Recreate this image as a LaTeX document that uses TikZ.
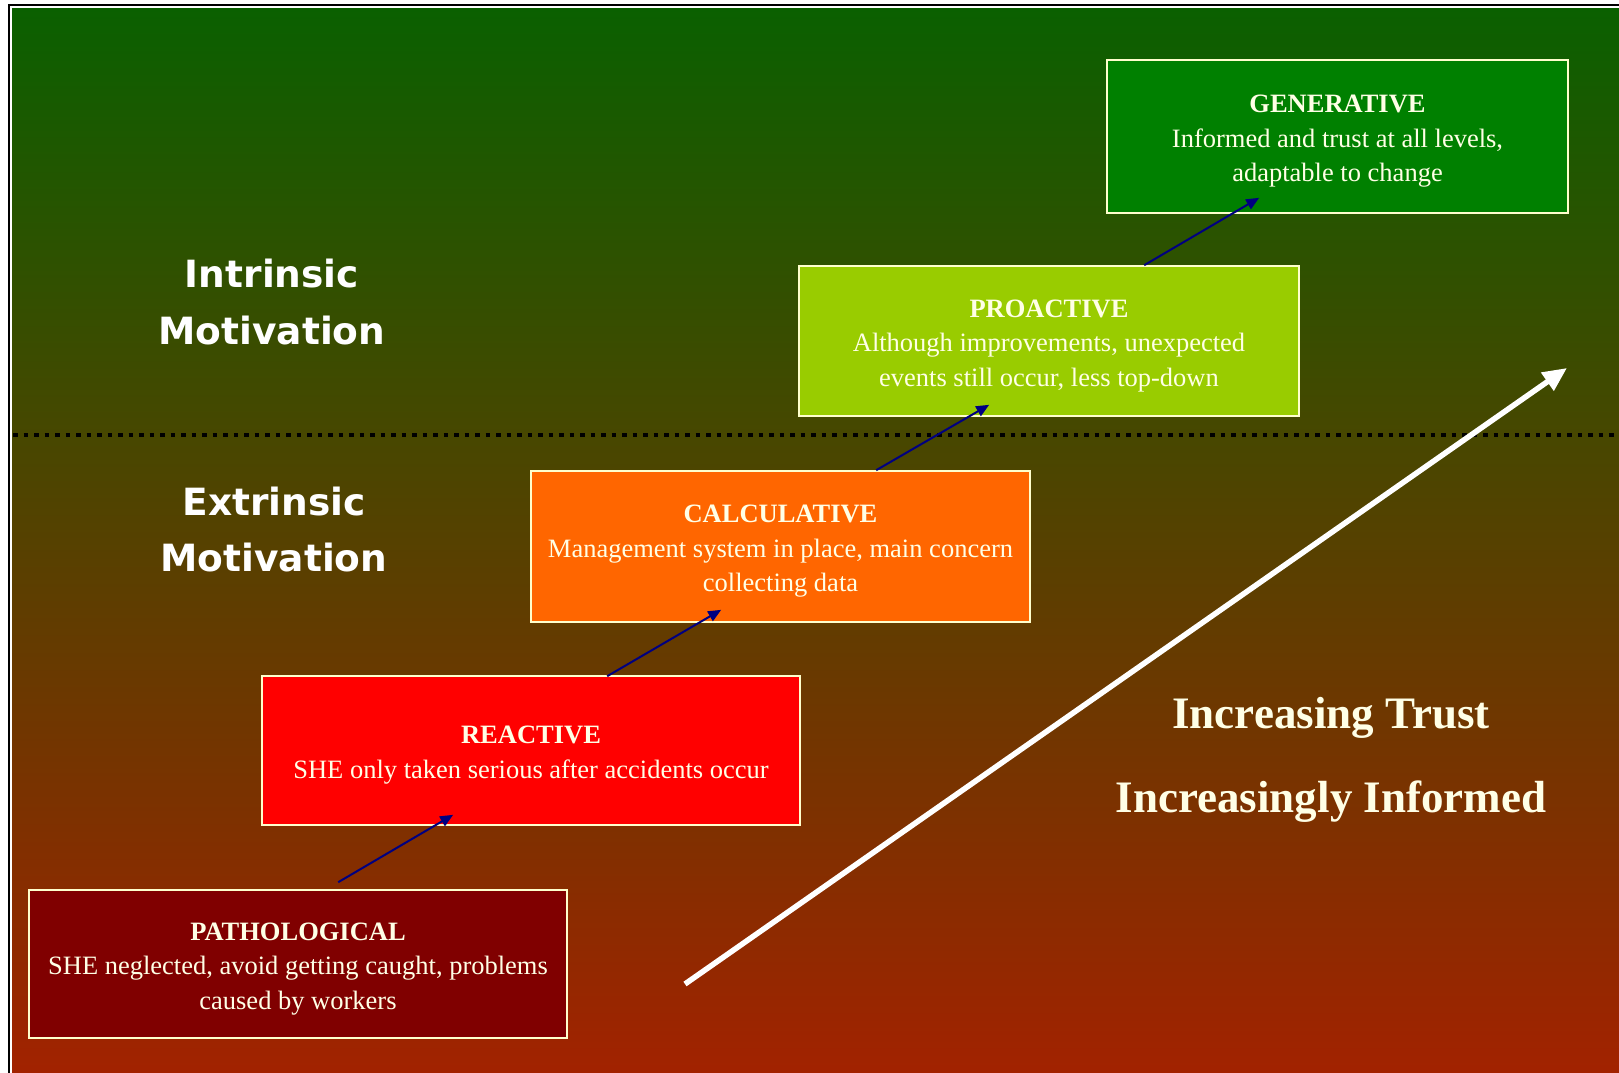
\documentclass[tikz,border=0pt]{standalone}
\usepackage{fontspec}
\setmainfont{Liberation Serif}
\newfontfamily\motivfont{DejaVu Sans}
\usetikzlibrary{arrows.meta}
\newcommand\lvtitle[1]{\rule{0pt}{27pt}\textbf{#1}}
\definecolor{bgtop}{RGB}{10,96,0}
\definecolor{bgmid}{RGB}{100,74,0}
\definecolor{bgbot}{RGB}{162,34,0}
\definecolor{genc}{RGB}{0,128,0}
\definecolor{proc}{RGB}{153,204,0}
\definecolor{calcc}{RGB}{255,102,0}
\definecolor{reacc}{RGB}{255,0,0}
\definecolor{pathc}{RGB}{128,0,0}
\definecolor{boxline}{RGB}{255,255,204}
\definecolor{boxtext}{RGB}{255,255,230}
\definecolor{navyc}{RGB}{0,0,128}
\begin{document}
\begin{tikzpicture}[x=1pt,y=-1pt,
  levelbox/.style={draw=boxline, line width=1.6pt, text=boxtext, align=center,
    inner sep=0pt, font=\fontsize{26.5}{34.5}\selectfont},
  steparrow/.style={draw=navyc, line width=2pt, -{Triangle[length=13pt,width=11pt]}},
  motiv/.style={text=white, anchor=base, inner sep=0pt,
    font=\motivfont\bfseries\fontsize{37.5}{44}\selectfont},
  trust/.style={text=boxtext, anchor=base, inner sep=0pt,
    font=\bfseries\fontsize{45}{52}\selectfont},
  bigarrow/.style={draw=white, line width=5.5pt, -{Triangle[length=24pt,width=21pt]}}]
\useasboundingbox (0,0) rectangle (1619,1073);
\fill[white] (0,0) rectangle (1619,1073);
\shade[top color=bgtop, middle color=bgmid, bottom color=bgbot] (12,8) rectangle (1619,1073);
\draw[black, line width=2pt] (9,1073) -- (9,5) -- (1619,5);
\draw[white, line width=1.3pt] (11,1073) -- (11,7) -- (1619,7);
% dotted divider
\draw[black, line width=4.5pt, dash pattern=on 4.5pt off 6pt] (13,435) -- (1619,435);
% motivation labels
\node[motiv] (intr1) at (272,287) {Intrinsic};
\node[motiv] (intr2) at (272,344) {Motivation};
\node[motiv] (extr1) at (274,515) {Extrinsic};
\node[motiv] (extr2) at (274,571) {Motivation};
% big arrow
\coordinate (bigs) at (685,984);
\coordinate (bige) at (1567,368);
\draw[bigarrow] (bigs) -- (bige);
\node[trust] (trust1) at (1331,728) {Increasing Trust};
\node[trust] (trust2) at (1331,812) {Increasingly Informed};
% level boxes
\node[levelbox, fill=genc, minimum width=461pt, minimum height=153pt] (gen) at (1337.5,136.5)
  {\lvtitle{GENERATIVE}\\Informed and trust at all levels,\\adaptable to change};
\node[levelbox, fill=proc, minimum width=500pt, minimum height=150pt] (pro) at (1049,341)
  {\lvtitle{PROACTIVE}\\Although improvements, unexpected\\events still occur, less top-down};
\node[levelbox, fill=calcc, minimum width=499pt, minimum height=151pt] (calc) at (780.5,546.5)
  {\lvtitle{CALCULATIVE}\\Management system in place, main concern\\collecting data};
\node[levelbox, fill=reacc, minimum width=538pt, minimum height=149pt] (reac) at (531,750.5)
  {\lvtitle{REACTIVE}\\SHE only taken serious after accidents occur};
\node[levelbox, fill=pathc, minimum width=538pt, minimum height=148pt] (path) at (298,964)
  {\lvtitle{PATHOLOGICAL}\\SHE neglected, avoid getting caught, problems\\caused by workers};
% step arrows
\coordinate (s1) at ([xshift=310pt,yshift=7pt]path.north west);
\coordinate (e1) at ([xshift=192pt,yshift=11pt]reac.south west);
\coordinate (s2) at ([xshift=346pt,yshift=-1pt]reac.north west);
\coordinate (e2) at ([xshift=191pt,yshift=13pt]calc.south west);
\coordinate (s3) at ([xshift=346pt,yshift=0pt]calc.north west);
\coordinate (e3) at ([xshift=191pt,yshift=12pt]pro.south west);
\coordinate (s4) at ([xshift=346pt,yshift=0pt]pro.north west);
\coordinate (e4) at ([xshift=153pt,yshift=16pt]gen.south west);
\draw[steparrow] (s1) -- (e1);
\draw[steparrow] (s2) -- (e2);
\draw[steparrow] (s3) -- (e3);
\draw[steparrow] (s4) -- (e4);
\end{tikzpicture}
\end{document}
